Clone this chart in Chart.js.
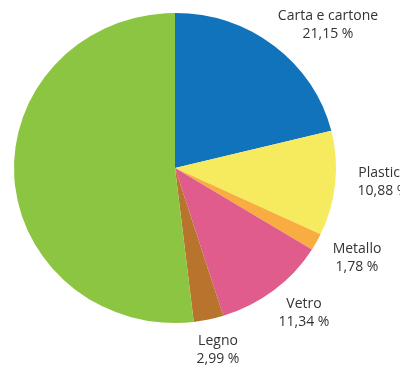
<!DOCTYPE html>
<html>
<head>
<meta charset="utf-8">
<script src="https://cdn.jsdelivr.net/npm/chart.js@4"></script>
<style>
  html, body { margin: 0; padding: 0; background: #fff; }
  #wrap { width: 409px; height: 367px; }
</style>
</head>
<body>
<div id="wrap"><canvas id="chart" width="409" height="367"></canvas></div>
<script>
const categories = ["Carta e cartone", "Plastica", "Metallo", "Vetro", "Legno", "Organico"];
const shares = [21.15, 10.88, 1.78, 11.34, 2.99, 51.86];
const shownLabels = ["21,15 %", "10,88 %", "1,78 %", "11,34 %", "2,99 %", null];

const colors = ["#1173bb", "#f6eb5f", "#f9ad40", "#df5c8c", "#b8742c", "#8cc541"];
// text anchor (centre x, first baseline y) per slice
const labelAnchors = [[328, 20], [383, 177], [357, 253], [304, 308], [218, 345], null];

const squash = 155 / 161;

const ellipsePlugin = {
  id: "ellipse",
  beforeDatasetsDraw(chart) {
    const ctx = chart.ctx;
    const arc = chart.getDatasetMeta(0).data[0];
    ctx.save();
    ctx.translate(arc.x, arc.y);
    ctx.scale(1, squash);
    ctx.translate(-arc.x, -arc.y);
  },
  afterDatasetsDraw(chart) {
    chart.ctx.restore();
  },
};

const labelPlugin = {
  id: "sliceLabels",
  afterDraw(chart) {
    const ctx = chart.ctx;
    ctx.save();
    ctx.beginPath();
    ctx.rect(0, 0, 400, 367);
    ctx.clip();
    ctx.fillStyle = "#333333";
    ctx.font = "14px 'Open Sans', sans-serif";
    ctx.textAlign = "center";
    ctx.textBaseline = "alphabetic";
    categories.forEach((name, i) => {
      const pos = labelAnchors[i];
      if (!pos || !shownLabels[i]) return;
      ctx.fillText(name, pos[0], pos[1]);
      ctx.fillText(shownLabels[i], pos[0], pos[1] + 18);
    });
    ctx.restore();
  },
};

new Chart(document.getElementById("chart").getContext("2d"), {
  type: "pie",
  data: {
    labels: categories,
    datasets: [
      {
        data: shares,
        backgroundColor: colors,
        borderWidth: 0,
      },
    ],
  },
  options: {
    responsive: false,
    animation: false,
    layout: { padding: { left: 14, right: 73, top: 7, bottom: 38 } },
    plugins: {
      legend: { display: false },
      tooltip: { enabled: false },
    },
  },
  plugins: [ellipsePlugin, labelPlugin],
});
</script>
</body>
</html>
